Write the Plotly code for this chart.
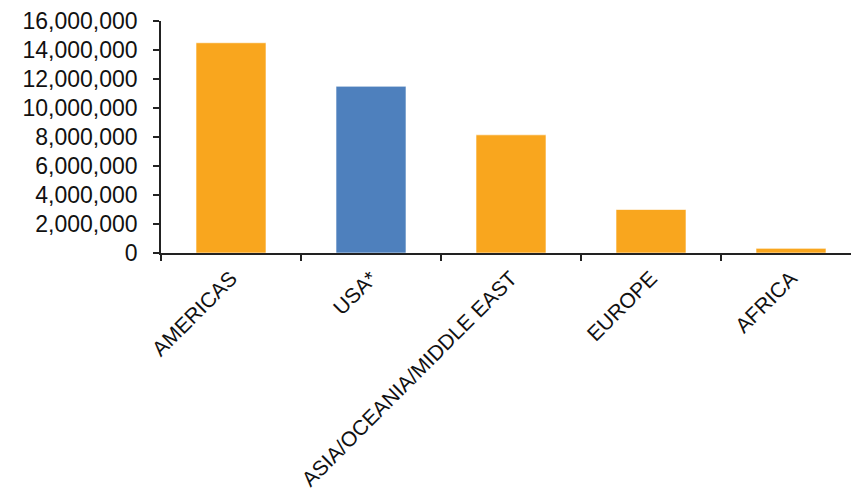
import plotly.graph_objects as go

# Regional totals
regions = ["AMERICAS", "USA*", "ASIA/OCEANIA/MIDDLE EAST", "EUROPE", "AFRICA"]
values = [14500000, 11500000, 8150000, 3000000, 320000]
bar_colors = ["#F9A61E", "#4E80BD", "#F9A61E", "#F9A61E", "#F9A61E"]

y_ticks = list(range(0, 16000001, 2000000))

fig = go.Figure(
    go.Bar(
        x=regions,
        y=values,
        width=0.5,
        marker=dict(color=bar_colors, line=dict(color="rgba(255,255,255,0.6)", width=1)),
    )
)

family = "Liberation Sans, Arial, sans-serif"

fig.update_layout(
    width=851,
    height=491,
    margin=dict(l=161, r=0, t=21, b=238),
    plot_bgcolor="white",
    paper_bgcolor="white",
    showlegend=False,
    font=dict(family=family, size=20, color="#111111"),
    bargap=0.5,
)

fig.update_xaxes(
    type="category",
    range=[-0.5, 4.4286],
    tickangle=-45,
    tickson="boundaries",
    ticks="outside",
    ticklen=6,
    tickwidth=1.5,
    tickcolor="#222222",
    ticklabelstandoff=3,
    showline=True,
    linecolor="#222222",
    linewidth=1.5,
    showgrid=False,
    tickfont=dict(family=family, size=21, color="#111111"),
)

fig.update_yaxes(
    range=[0, 16000000],
    tickvals=y_ticks,
    ticktext=[f"{v:,}" for v in y_ticks],
    ticks="outside",
    ticklen=6,
    tickwidth=1.5,
    tickcolor="#222222",
    ticklabelstandoff=11,
    showline=True,
    linecolor="#222222",
    linewidth=1.5,
    showgrid=False,
    zeroline=False,
    tickfont=dict(family=family, size=23, color="#111111"),
)

fig.write_html("out.html")
